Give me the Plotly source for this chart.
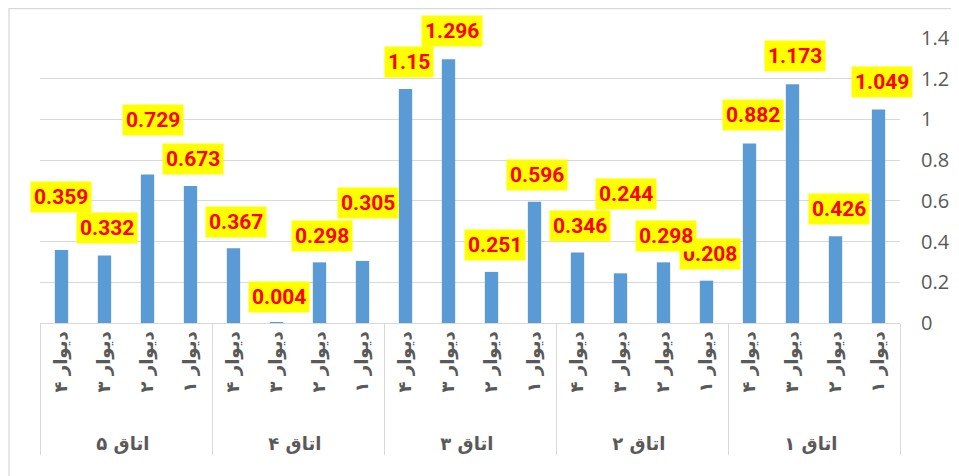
import plotly.graph_objects as go

rooms = ["اتاق ۱", "اتاق ۲", "اتاق ۳", "اتاق ۴", "اتاق ۵"]
walls = ["دیوار ۱", "دیوار ۲", "دیوار ۳", "دیوار ۴"]

room1 = [1.049, 0.426, 1.173, 0.882]
room2 = [0.208, 0.298, 0.244, 0.346]
room3 = [0.596, 0.251, 1.296, 1.15]
room4 = [0.305, 0.298, 0.004, 0.367]
room5 = [0.673, 0.729, 0.332, 0.359]

y_ticks = [0, 0.2, 0.4, 0.6, 0.8, 1, 1.2, 1.4]
y_tick_text = ["0", "0.2", "0.4", "0.6", "0.8", "1", "1.2", "1.4"]

# label offsets in pixels (style/placement only)
label_dx = [3, 3, 2, 3, 3, 2, 5, 2, 2, 3, 3, 3, 5, 2, 2, 2, 2, 5, 2, -1]
label_dy = [27, 27, 28, 28, 27, 26, 79, 27, 27, 27, 28, 27, 58, 26, 25, 26, 27, 55, 27, 53]

values = room1 + room2 + room3 + room4 + room5
outer = ["<br>" + r for r in rooms for _ in walls]
inner = [w for _ in rooms for w in walls]
n = len(values)

# page body has an 8px margin, so the figure is 8px smaller on each axis
W, H = 951, 468
ML, MR, MT, MB = 32, 59, 30, 153
PW, PH = W - ML - MR, H - MT - MB

fig = go.Figure()
fig.add_trace(go.Bar(
    x=[outer, inner], y=values,
    marker=dict(color="#5b9bd5", line=dict(width=0)),
    showlegend=False,
))

anns = []
for i, v in enumerate(values):
    anns.append(dict(
        x=i, y=v, xref="x", yref="y",
        text="<b>%s</b>" % (("%g" % v)),
        showarrow=False,
        xanchor="center", yanchor="middle",
        xshift=label_dx[i], yshift=label_dy[i],
        font=dict(family="Roboto", size=21, color="#ff0000"),
        bgcolor="#ffff00", borderpad=3,
    ))

fig.update_layout(
    width=W, height=H,
    margin=dict(l=ML, r=MR, t=MT, b=MB),
    paper_bgcolor="white", plot_bgcolor="white",
    bargap=0.69,
    annotations=anns,
    shapes=[dict(type="rect", xref="paper", yref="paper",
                 x0=(1 - ML) / PW, x1=1.3, y0=-0.8, y1=(H - MB - 0.5) / PH,
                 line=dict(color="#d9d9d9", width=1.3), fillcolor="rgba(0,0,0,0)",
                 layer="below")],
    xaxis=dict(
        type="multicategory",
        range=[n - 0.5, -0.5],
        automargin=False,
        showline=True, linecolor="#d9d9d9", linewidth=1.3,
        showdividers=True, dividercolor="#d9d9d9", dividerwidth=1.3,
        tickangle=-90,
        tickfont=dict(family="DejaVu Sans", size=18, color="#595959", weight="bold"),
        showgrid=False,
    ),
    yaxis=dict(
        side="right", range=[0, 1.4],
        automargin=False,
        tickvals=y_ticks, ticktext=y_tick_text,
        showgrid=True, gridcolor="#d9d9d9", gridwidth=1.3,
        zeroline=False, showline=False,
        ticks="", ticklabelstandoff=20,
        tickfont=dict(family="Open Sans", size=20, color="#595959"),
    ),
)

fig.write_html("out.html")
